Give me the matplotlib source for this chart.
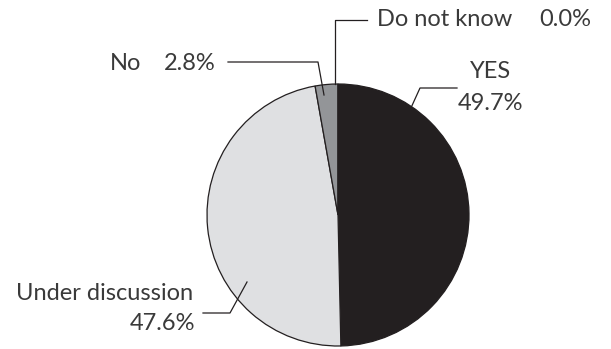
import matplotlib.pyplot as plt
import numpy as np

labels = ['YES', 'Under discussion', 'No', 'Do not know']
values = [49.7, 47.6, 2.8, 0.0]
colors = ['#231f20', '#dfe0e2', '#939598', '#ffffff']

W, H = 611, 349
fig = plt.figure(figsize=(W / 100, H / 100), dpi=100)
ax = fig.add_axes([0, 0, 1, 1])

cx, cy, r = 338, H - 215, 131
ax.pie(values, colors=colors, startangle=90, counterclock=False,
       center=(cx, cy), radius=r, frame=True,
       wedgeprops=dict(edgecolor='#231f20', linewidth=0.9))
ax.set_xlim(0, W)
ax.set_ylim(0, H)
ax.set_aspect('equal')
ax.axis('off')


def px(x, y):
    return x, H - y


line_kw = dict(color='#231f20', linewidth=0.9)
txt_kw = dict(color='#3a3a3a', fontsize=17, family=['Lato', 'DejaVu Sans'])

# leader lines (pixel positions of the elbows)
leaders = [
    [(335, 84), (335, 20), (367, 20)],
    [(324, 95), (318, 62), (228, 62)],
    [(410, 110), (420, 88), (457, 88)],
    [(247, 282), (230, 313), (203, 313)],
]
for pts in leaders:
    xs, ys = zip(*[px(*p) for p in pts])
    ax.plot(xs, ys, **line_kw)

ax.text(*px(377, 20), labels[3], ha='left', va='center', **txt_kw)
ax.text(*px(591, 20), f'{values[3]:.1f}%', ha='right', va='center', **txt_kw)
ax.text(*px(141, 63), labels[2], ha='right', va='center', **txt_kw)
ax.text(*px(216, 63), f'{values[2]:.1f}%', ha='right', va='center', **txt_kw)
ax.text(*px(491, 72), labels[0], ha='center', va='center', **txt_kw)
ax.text(*px(491, 103), f'{values[0]:.1f}%', ha='center', va='center', **txt_kw)
ax.text(*px(193, 294), labels[1], ha='right', va='center', **txt_kw)
ax.text(*px(195, 324), f'{values[1]:.1f}%', ha='right', va='center', **txt_kw)

fig.savefig('out.png', dpi=100)
